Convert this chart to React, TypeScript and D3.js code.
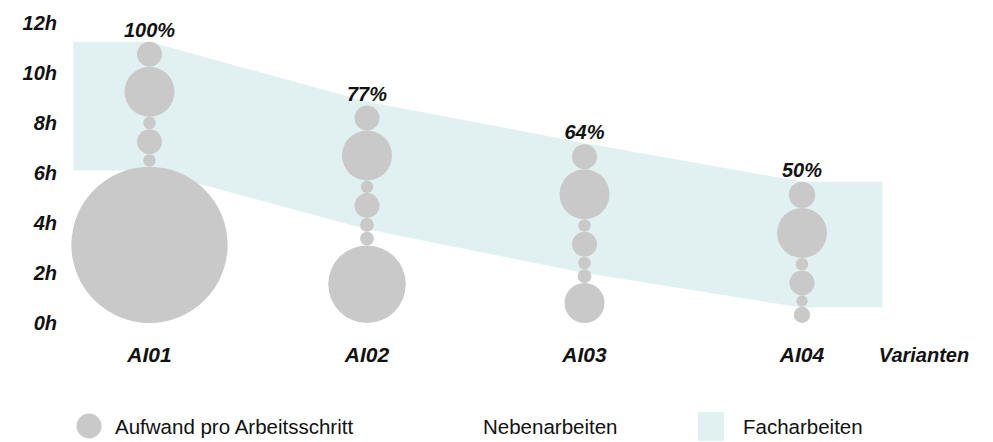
import React from "react";
import * as d3 from "d3";

const categories = ["AI01", "AI02", "AI03", "AI04"];
const percentLabels = ["100%", "77%", "64%", "50%"];
// hours per work step, from bottom to top
const stepsAI01 = [6.25, 0.5, 1, 0.5, 2, 1];
const stepsAI02 = [3.1, 0.55, 0.55, 1, 0.5, 2, 1];
const stepsAI03 = [1.6, 0.55, 0.5, 1, 0.5, 2, 1];
const stepsAI04 = [0.65, 0.45, 1, 0.5, 2, 1.05];
const steps = [stepsAI01, stepsAI02, stepsAI03, stepsAI04];
// stacked areas (hours)
const nebenarbeiten = [6.1, 3.75, 2.0, 0.62];
const facharbeiten = [5.15, 5.1, 5.2, 5.03];
const yTicks = [0, 2, 4, 6, 8, 10, 12];
const axisTitle = "Varianten";
const legendLabels = ["Aufwand pro Arbeitsschritt", "Nebenarbeiten", "Facharbeiten"];

const W = 993;
const H = 442;
const BUBBLE = "#c9c9c9";
const BAND = "#e1f1f1";
const TEXT = "#111";
const AX_FONT = "'Liberation Sans', Arial, sans-serif";

export default function App() {
  const x = d3.scalePoint<string>().domain(categories).range([149.5, 802]);
  const step = x.step();
  const y = d3.scaleLinear().domain([0, 12]).range([323, 23]);

  const bandPts = [
    { px: (x(categories[0]) as number) - 0.35 * step, i: 0 },
    ...categories.map((c, i) => ({ px: x(c) as number, i })),
    { px: (x(categories[categories.length - 1]) as number) + 0.37 * step, i: categories.length - 1 },
  ];
  const area = d3
    .area<{ px: number; i: number }>()
    .x((d) => d.px)
    .y0((d) => y(nebenarbeiten[d.i]))
    .y1((d) => y(nebenarbeiten[d.i] + facharbeiten[d.i]))
    .curve(d3.curveLinear);

  const bubbles: { cx: number; cy: number; r: number; key: string }[] = [];
  const tops: number[] = [];
  steps.forEach((arr, ci) => {
    let cum = 0;
    arr.forEach((h, si) => {
      const cy = y(cum + h / 2);
      const r = (y(0) - y(h)) / 2;
      bubbles.push({ cx: x(categories[ci]) as number, cy, r, key: `${ci}-${si}` });
      cum += h;
    });
    tops.push(y(cum));
  });

  const boldItalic = { fontFamily: AX_FONT, fontWeight: 700, fontStyle: "italic", fill: TEXT } as const;

  return (
    <svg width={W} height={H} style={{ position: "absolute", left: 0, top: 0, background: "#fff" }}>
      <path d={area(bandPts) || ""} fill={BAND} />
      {bubbles.map((b) => (
        <circle key={b.key} cx={b.cx} cy={b.cy} r={b.r} fill={BUBBLE} />
      ))}
      {yTicks.map((t) => (
        <text key={t} x={57} y={y(t)} dy="0.35em" textAnchor="end" fontSize={20} {...boldItalic}>
          {`${t}h`}
        </text>
      ))}
      {categories.map((c, i) => (
        <text key={c} x={x(c) as number} y={tops[i] - 5} textAnchor="middle" fontSize={20} {...boldItalic}>
          {percentLabels[i]}
        </text>
      ))}
      {categories.map((c) => (
        <text key={c} x={x(c) as number} y={362} textAnchor="middle" fontSize={21} {...boldItalic}>
          {c}
        </text>
      ))}
      <text x={924} y={362} textAnchor="middle" fontSize={20} {...boldItalic}>
        {axisTitle}
      </text>
      {/* legend */}
      <circle cx={89} cy={426} r={12.5} fill={BUBBLE} />
      <text x={115} y={434} fontSize={20.5} fontFamily={AX_FONT} fill={TEXT}>
        {legendLabels[0]}
      </text>
      <text x={483} y={434} fontSize={20.5} fontFamily={AX_FONT} fill={TEXT}>
        {legendLabels[1]}
      </text>
      <rect x={698} y={412} width={26} height={29} fill={BAND} />
      <text x={743} y={434} fontSize={20.5} fontFamily={AX_FONT} fill={TEXT}>
        {legendLabels[2]}
      </text>
    </svg>
  );
}
